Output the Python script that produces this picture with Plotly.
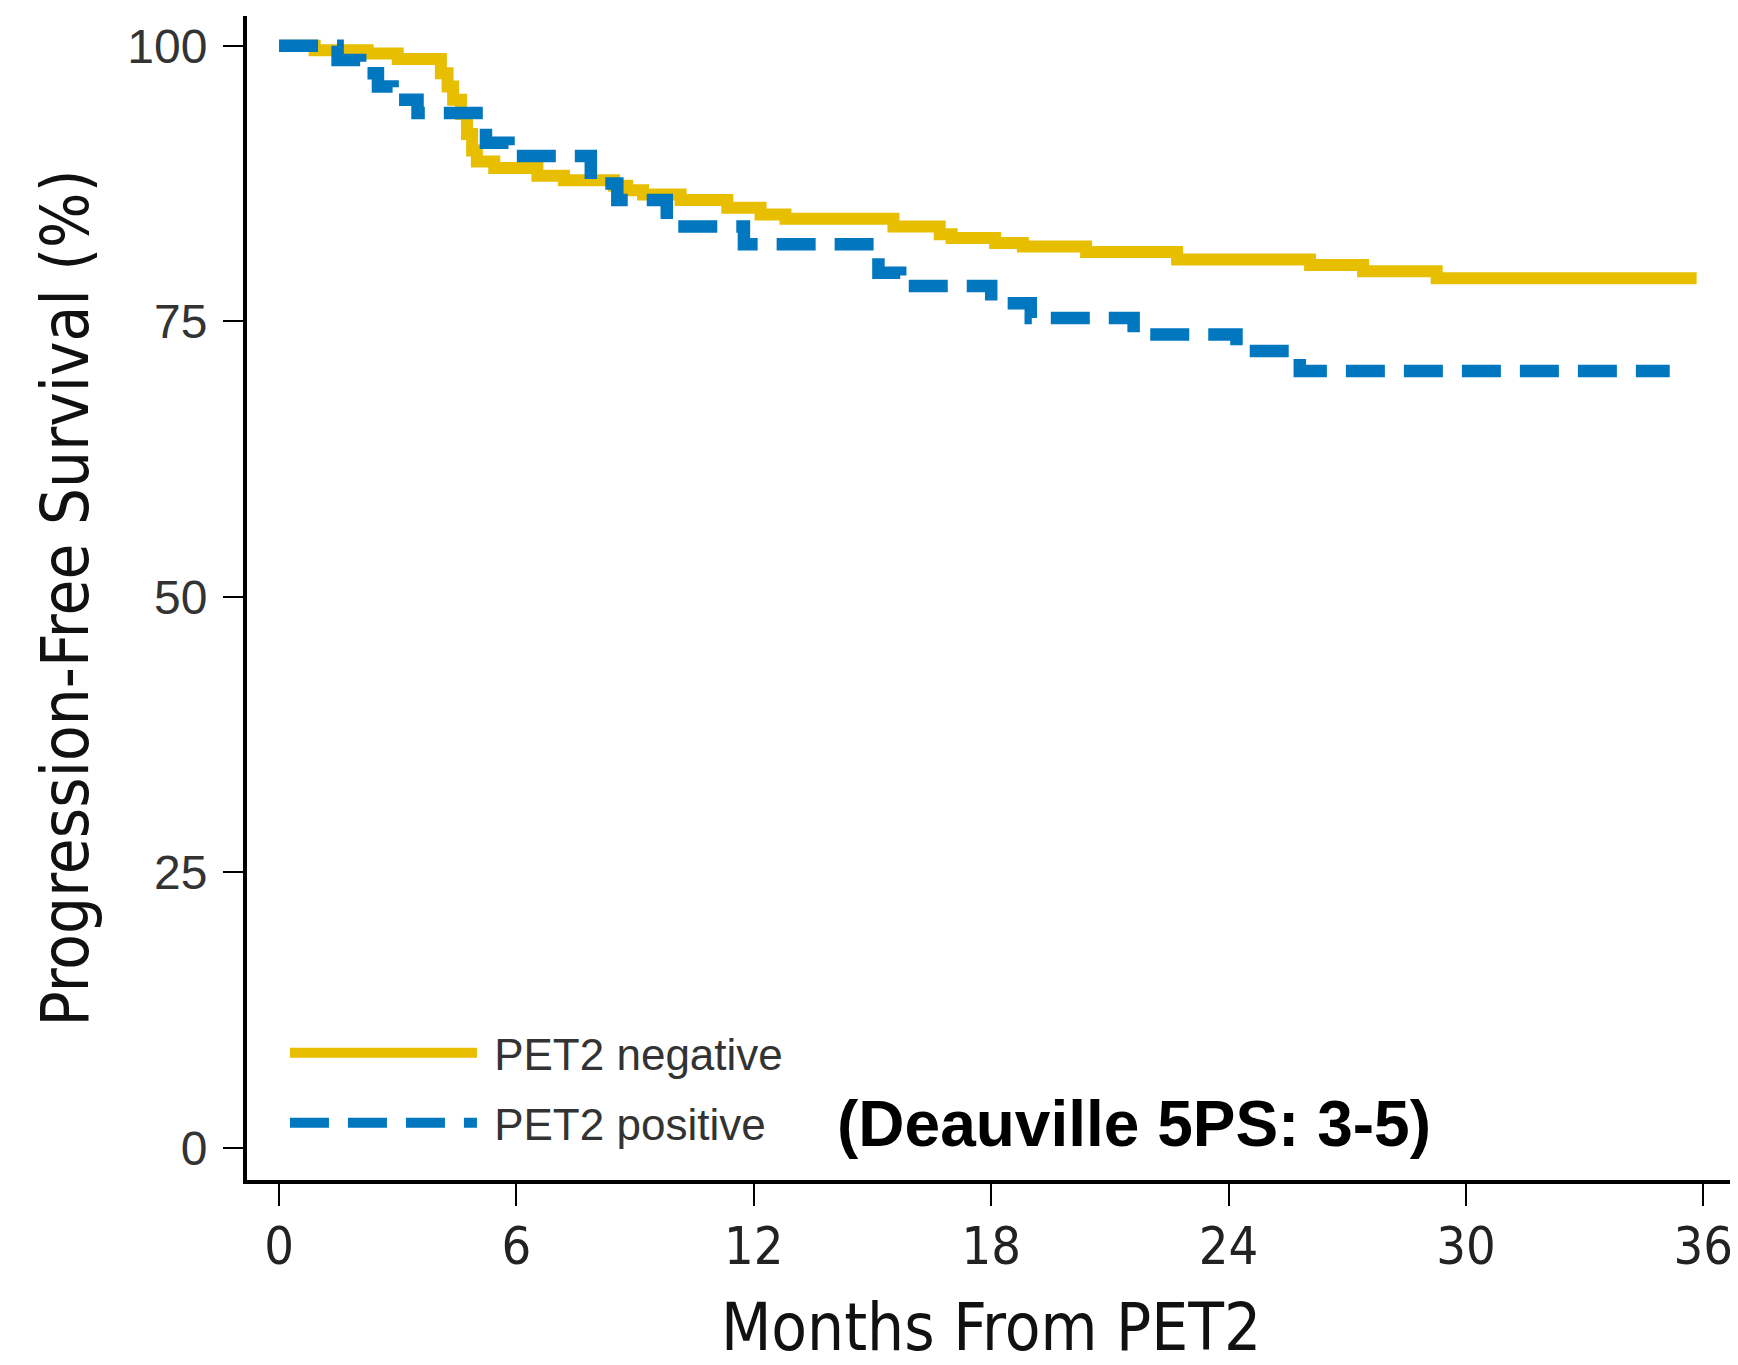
import plotly.graph_objects as go

# Kaplan-Meier step data (months, PFS %)
neg_months = [0, 0.9, 2.24, 3.0, 4.09, 4.26, 4.4, 4.6, 4.75, 4.88, 5.0, 5.44, 6.53, 7.2, 8.47, 8.8, 9.2, 10.15, 11.33, 12.17, 12.8, 15.53, 16.7, 17.0, 18.1, 18.8, 20.4, 22.7, 26.06, 27.4, 29.26, 35.83]
neg_pfs    = [100, 99.6, 99.3, 98.8, 97.5, 96.3, 95.1, 93.8, 92.0, 90.5, 89.5, 88.9, 88.2, 87.8, 87.3, 86.9, 86.5, 86.0, 85.3, 84.7, 84.3, 83.6, 82.9, 82.55, 82.1, 81.8, 81.3, 80.6, 80.1, 79.55, 78.9, 78.9]

pos_months = [0, 1.48, 2.05, 2.5, 2.87, 3.5, 5.23, 5.8, 7.88, 8.55, 9.8, 11.75, 14.87, 15.15, 15.7, 18.0, 19.0, 21.6, 24.2, 25.8, 35.15]
pos_pfs    = [100, 98.7, 97.5, 96.3, 95.1, 93.9, 91.2, 90.0, 87.5, 86.0, 83.6, 82.0, 80.9, 79.4, 78.2, 76.65, 75.3, 73.8, 72.3, 70.5, 70.5]

x_ticks = [0, 6, 12, 18, 24, 30, 36]
y_ticks = [0, 25, 50, 75, 100]

YELLOW = "#E8BE00"
BLUE = "#0077BE"
NARROW = "Liberation Sans Narrow, DejaVu Sans Condensed, Arial Narrow, sans-serif"
SANS = "Liberation Sans, Arial, Helvetica, sans-serif"

fig = go.Figure()
fig.add_trace(go.Scatter(x=neg_months, y=neg_pfs, mode="lines", line_shape="hv",
                         line=dict(color=YELLOW, width=12), name="\u00a0PET2 negative",
                         legendgroup="a"))
fig.add_trace(go.Scatter(x=pos_months, y=pos_pfs, mode="lines", line_shape="hv",
                         line=dict(color=BLUE, width=12.5, dash="39px,19px"), name="\u00a0PET2 positive",
                         legendgroup="b"))

fig.update_layout(
    width=1730, height=1357,
    margin=dict(l=239, r=3, t=8, b=185),
    plot_bgcolor="white", paper_bgcolor="white",
    showlegend=True,
    legend=dict(x=0.0255, y=0.079, xanchor="left", yanchor="middle",
                itemwidth=187, traceorder="grouped", tracegroupgap=10,
                bgcolor="rgba(0,0,0,0)",
                font=dict(family=SANS, size=44, color="#333333")),
    annotations=[dict(text="<b>(Deauville 5PS: 3-5)</b>", xref="paper", yref="paper",
                      x=0.596, y=0.048, xanchor="center", yanchor="middle", showarrow=False,
                      font=dict(family=SANS, size=64, color="black"))],
)

fig.update_xaxes(range=[-0.81, 36.8], tickvals=x_ticks, ticktext=[str(v) for v in x_ticks],
                 showline=True, linecolor="black", linewidth=4, mirror=False,
                 ticks="outside", ticklen=22, tickwidth=2, tickcolor="black",
                 showgrid=False, zeroline=False, ticklabelstandoff=-4, automargin=False,
                 tickfont=dict(family=NARROW, size=52, color="#222222"),
                 title=dict(text="Months From PET2", standoff=34,
                            font=dict(family=NARROW, size=65, color="#111111")))
fig.update_yaxes(range=[-2.9, 102.7], tickvals=y_ticks, ticktext=[str(v) for v in y_ticks],
                 showline=True, linecolor="black", linewidth=4, mirror=False,
                 ticks="outside", ticklen=20, tickwidth=2, tickcolor="black",
                 showgrid=False, zeroline=False, ticklabelstandoff=6, automargin=False,
                 tickfont=dict(family=SANS, size=48, color="#333333"),
                 title=dict(text="Progression-Free Survival (%)", standoff=19,
                            font=dict(family=NARROW, size=65, color="#111111")))

fig.write_html("out.html")
